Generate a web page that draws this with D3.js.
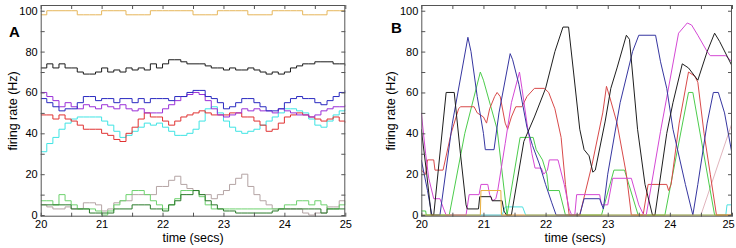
<!DOCTYPE html>
<html><head><meta charset="utf-8">
<script src="https://cdn.jsdelivr.net/npm/d3@7"></script>
<style>
body{margin:0;background:#fff}
svg{display:block}
text{font-family:"Liberation Sans",Arial,Helvetica,sans-serif;fill:#000}
</style>
</head><body>
<svg id="c" width="736" height="248"></svg>
<script>
// ---------- DATA ----------
const timeA = [20.0,20.1,20.2,20.3,20.4,20.5,20.6,20.7,20.8,20.9,
  21.0,21.1,21.2,21.3,21.4,21.5,21.6,21.7,21.8,21.9,
  22.0,22.1,22.2,22.3,22.4,22.5,22.6,22.7,22.8,22.9,
  23.0,23.1,23.2,23.3,23.4,23.5,23.6,23.7,23.8,23.9,
  24.0,24.1,24.2,24.3,24.4,24.5,24.6,24.7,24.8,24.9,25.0];

const aOrange = [98,100,100,100,100,100,98,98,98,98, 100,100,100,100,98,98,98,98,100,100,
  100,100,100,100,100,98,98,98,98,100, 100,100,100,100,98,98,98,98,100,100,
  100,100,100,98,98,98,98,100,100,100, 100];
const aBlack = [72,74,72,74,72,72,70,69,69,70, 72,70,71,70,72,71,72,71,74,72,
  74,76,76,75,74,74,74,73,72,72, 71,72,71,71,72,71,70,69,70,69,
  70,72,73,74,74,75,75,75,74,74, 73];
const aBlue = [57,55,53,51,52,52,55,58,58,56, 57,57,55,57,57,55,57,55,57,57,
  57,56,58,58,60,61,61,58,57,55, 52,53,55,57,57,55,53,51,51,52,
  55,57,58,57,57,55,54,56,58,60, 61];
const aPurple = [60,58,56,53,55,53,52,54,53,52, 54,53,52,54,52,51,52,50,50,50,
  52,54,56,58,59,60,59,56,52,49, 48,49,50,52,51,52,51,51,50,52,
  51,50,49,49,48,49,51,52,53,53, 54];
const aRed = [49,49,47,49,47,46,44,42,42,42, 40,39,37,36,40,43,47,50,48,48,
  46,44,46,48,49,50,51,50,49,49, 49,50,50,48,48,46,44,41,42,45,
  48,49,50,49,48,47,46,47,48,46, 45];
const aCyan = [31,35,38,42,45,47,48,48,48,48, 46,44,41,38,39,41,43,45,44,45,
  43,41,39,39,40,42,46,52,53,50, 46,43,41,40,41,42,44,46,48,50,
  52,52,51,50,47,44,43,46,49,51, 52];
const aGray = [5,4,3,3,4,3,3,6,6,5, 2,3,6,7,7,10,10,10,10,14,
  14,17,19,15,13,12,10,10,8,10, 12,15,18,20,14,10,7,5,3,3,
  3,3,3,1,0,1,1,4,4,7, 7];
const aLightGreen = [7,7,5,10,7,5,3,3,3,2, 0,2,5,7,10,12,12,10,7,5,
  3,5,8,12,12,12,9,5,3,3, 3,3,3,3,3,3,3,3,3,3,
  5,5,7,7,5,7,5,3,3,5, 7];
const aDarkGreen = [5,5,5,5,5,3,3,3,1,1, 1,1,3,3,3,5,5,5,3,3,
  2,5,7,10,10,12,10,7,5,3, 2,2,1,1,1,1,1,1,2,3,
  3,3,3,3,3,3,1,3,3,3, 3];

// Panel B: [time (s), rate (Hz)] breakpoints
const bBlue = [[20,27],[20.1,12],[20.17,0],[20.3,0],[20.5,45],[20.75,87],[20.8,80],[20.9,58],[21.0,40],[21.03,32],[21.17,32],[21.25,50],[21.43,79],[21.47,76],[21.57,64],[21.7,43],[21.79,34],[21.9,25],[22.0,15],[22.1,6],[22.17,0],[22.55,0],[22.62,8],[22.87,8],[22.93,3],[23.0,20],[23.2,55],[23.4,80],[23.5,88],[23.77,88],[23.85,75],[23.95,62],[24.05,42],[24.25,15],[24.37,0],[24.45,15],[24.6,45],[24.7,60],[24.78,60],[24.88,50],[25,30]];
const bBlack = [[20,42],[20.08,22],[20.16,0],[20.2,0],[20.4,60],[20.53,60],[20.63,30],[20.72,5],[20.74,3],[20.92,3],[20.94,9],[21.12,9],[21.14,7],[21.3,7],[21.33,2],[21.37,0],[21.45,0],[21.65,36],[21.82,48],[22.0,62],[22.15,80],[22.28,92],[22.37,92],[22.45,70],[22.55,42],[22.62,32],[22.7,29],[22.76,21],[22.8,22],[22.96,46],[23.05,62],[23.15,72],[23.3,88],[23.35,86],[23.48,42],[23.6,15],[23.72,0],[23.76,0],[23.95,40],[24.05,55],[24.2,74],[24.3,72],[24.45,66],[24.6,80],[24.72,89],[24.8,85],[25,73]];
const bMagenta = [[20,50],[20.07,30],[20.12,18],[20.2,8],[20.3,8],[20.36,3],[20.4,0],[20.72,0],[20.77,10],[20.93,10],[20.96,15],[21.07,15],[21.1,10],[21.15,7],[21.2,8],[21.23,12],[21.35,35],[21.45,55],[21.58,70],[21.62,62],[21.7,45],[21.78,30],[21.83,23],[21.93,23],[21.97,20],[22.03,22],[22.06,27],[22.2,27],[22.3,15],[22.38,3],[22.42,0],[22.47,0],[22.5,10],[22.87,10],[22.9,5],[23.0,5],[23.08,18],[23.38,18],[23.5,5],[23.58,0],[23.62,0],[23.85,41],[24.14,89],[24.28,94],[24.35,93],[24.45,88],[24.6,80],[24.65,78],[24.9,78],[25,75]];
const bRed = [[20,22],[20.07,20],[20.1,27],[20.2,27],[20.22,22],[20.35,22],[20.48,40],[20.6,52],[20.63,53],[20.85,53],[20.9,50],[21.0,48],[21.05,45],[21.1,52],[21.18,58],[21.22,60],[21.27,58],[21.35,45],[21.39,42],[21.45,48],[21.52,53],[21.62,53],[21.7,58],[21.82,62],[21.98,62],[22.05,60],[22.15,52],[22.25,38],[22.32,15],[22.38,0],[22.55,0],[22.75,25],[22.92,50],[22.98,63],[23.03,58],[23.15,45],[23.3,20],[23.38,0],[23.57,0],[23.65,15],[23.95,15],[23.98,12],[24.02,15],[24.15,45],[24.3,70],[24.4,68],[24.45,65],[24.55,40],[24.65,20],[24.75,0],[25,0]];
const bGreen = [[20,2],[20.07,2],[20.08,0],[20.45,0],[20.7,40],[20.95,70],[21.0,66],[21.22,42],[21.38,0],[21.59,38],[21.8,38],[21.85,32],[21.95,27],[22.02,20],[22.05,12],[22.22,12],[22.32,0],[22.9,0],[23.1,22],[23.27,22],[23.49,0],[23.92,0],[24.3,60],[24.37,60],[24.72,0],[25,0]];
const bOrange = [[20,0],[20.95,0],[20.96,12],[21.28,12],[21.29,0],[25,0]];
const bCyan = [[20,0],[21.3,0],[21.35,4],[21.63,4],[21.68,0],[24.9,0],[24.92,5],[25,5]];
const bLight = [[20,0],[24.5,0],[25,45]];

const yTickVals = [0,10,20,30,40,50,60,70,80,90,100];
const xTickVals = [20,20.5,21,21.5,22,22.5,23,23.5,24,24.5,25];
const yLabelVals = [0,20,40,60,80,100];
const xLabelVals = [20,21,22,23,24,25];

// ---------- DRAW ----------
const svg = d3.select("#c");
const frameColor = "#555";

function panel(cfg) {
  const x = d3.scaleLinear().domain([20,25]).range([cfg.left, cfg.right]);
  const y = d3.scaleLinear().domain([-0.8,102.8]).range([cfg.bottom, cfg.top]);
  const g = svg.append("g");
  const cid = "clip" + cfg.name;
  svg.append("defs").append("clipPath").attr("id", cid).append("rect")
    .attr("x", cfg.left).attr("y", cfg.top)
    .attr("width", cfg.right - cfg.left).attr("height", cfg.bottom - cfg.top);

  const line = d3.line().x(d => x(d[0])).y(d => y(d[1])).curve(cfg.curve);
  const lines = g.append("g").attr("clip-path", `url(#${cid})`);
  cfg.series.forEach(s => {
    lines.append("path").attr("d", line(s.data))
      .attr("fill", "none").attr("stroke", s.color).attr("stroke-width", 1);
  });

  const fmtY = v => yLabelVals.includes(v) ? String(v) : "";
  const fmtX = v => xLabelVals.includes(v) ? String(v) : "";
  const style = sel => {
    sel.select(".domain").remove();
    sel.selectAll(".tick line").attr("stroke", frameColor);
    sel.selectAll(".tick text").attr("font-size", 11).attr("fill", "#000")
      .attr("font-family", '"Liberation Sans",Arial,sans-serif');
  };
  const bx = g.append("g").attr("transform", `translate(0,${cfg.bottom})`)
    .call(d3.axisBottom(x).tickValues(xTickVals).tickSize(-4).tickPadding(4).tickFormat(fmtX)).call(style);
  bx.selectAll(".tick text").filter(d => d === 25).attr("dx", cfg.lastDx);
  g.append("g").attr("transform", `translate(0,${cfg.top})`)
    .call(d3.axisTop(x).tickValues(xTickVals).tickSize(-4).tickFormat("")).call(style);
  g.append("g").attr("transform", `translate(${cfg.left},0)`)
    .call(d3.axisLeft(y).tickValues(yTickVals).tickSize(-4).tickPadding(3).tickFormat(fmtY)).call(style);
  g.append("g").attr("transform", `translate(${cfg.right},0)`)
    .call(d3.axisRight(y).tickValues(yTickVals).tickSize(-4).tickFormat("")).call(style);

  g.append("rect").attr("x", cfg.left + 0.5).attr("y", cfg.top + 0.5)
    .attr("width", cfg.right - cfg.left - 1).attr("height", cfg.bottom - cfg.top - 1)
    .attr("fill", "none").attr("stroke", frameColor).attr("stroke-width", 1);

  g.append("text").attr("x", cfg.titleX).attr("y", 241.5)
    .attr("text-anchor", "middle").attr("font-size", 12.5).text("time (secs)");
  g.append("text").attr("transform", `translate(${cfg.ylabX},${(cfg.top + cfg.bottom) / 2}) rotate(-90)`)
    .attr("text-anchor", "middle").attr("font-size", 12.5).text("firing rate (Hz)");
  g.append("text").attr("x", cfg.letterX).attr("y", cfg.letterY)
    .attr("font-size", 15).attr("font-weight", "bold").text(cfg.name);
}

const asPairs = vals => timeA.map((t, i) => [t, vals[i]]);

panel({
  name: "A", left: 40.7, right: 345.3, top: 5, bottom: 216.7,
  ylabX: 16.5, letterX: 9, letterY: 37, curve: d3.curveStepAfter,
  titleX: 193, lastDx: 0,
  series: [
    {data: asPairs(aOrange), color: "#e6b65a"},
    {data: asPairs(aBlack), color: "#1a1a1a"},
    {data: asPairs(aGray), color: "#b4a4a4"},
    {data: asPairs(aLightGreen), color: "#6ed26e"},
    {data: asPairs(aDarkGreen), color: "#2a7a2a"},
    {data: asPairs(aCyan), color: "#3fe4e4"},
    {data: asPairs(aRed), color: "#e03232"},
    {data: asPairs(aPurple), color: "#9a30d8"},
    {data: asPairs(aBlue), color: "#2a2ac0"}
  ]
});

panel({
  name: "B", left: 421.3, right: 732, top: 5, bottom: 216.7,
  ylabX: 395, letterX: 391, letterY: 33, curve: d3.curveLinear,
  titleX: 575, lastDx: -4,
  series: [
    {data: bLight, color: "#e0b4bc"},
    {data: bCyan, color: "#4ee0e0"},
    {data: bGreen, color: "#4ccc4c"},
    {data: bRed, color: "#d84a4a"},
    {data: bMagenta, color: "#d448d4"},
    {data: bBlue, color: "#3636a0"},
    {data: bBlack, color: "#1e1e1e"},
    {data: bOrange, color: "#e8b040"}
  ]
});
</script>
</body></html>
